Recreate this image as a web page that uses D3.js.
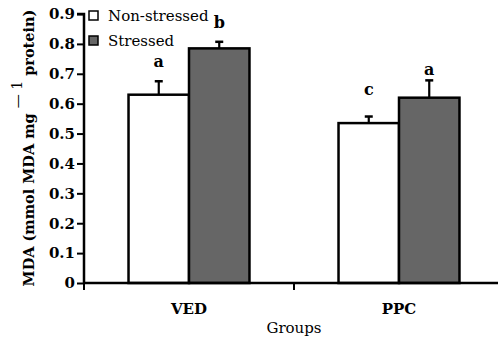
<!DOCTYPE html>
<html>
<head>
<meta charset="utf-8">
<script src="https://cdn.jsdelivr.net/npm/d3@7/dist/d3.min.js"></script>
<style>
  body { margin: 0; background: #fff; }
  svg text { font-family: "DejaVu Serif", "Liberation Serif", serif !important; }
</style>
</head>
<body>
<div id="chart"></div>
<script>
// data
const groups = ['VED', 'PPC'];
const conditions = ['Non-stressed', 'Stressed'];
const meanNonStressed = [0.63, 0.535];
const meanStressed = [0.785, 0.62];
const seNonStressed = [0.045, 0.022];
const seStressed = [0.022, 0.058];
const lettersNonStressed = ['a', 'c'];
const lettersStressed = ['b', 'a'];
const yTicks = [0, 0.1, 0.2, 0.3, 0.4, 0.5, 0.6, 0.7, 0.8, 0.9];

const width = 498;
const height = 341;
const margin = { top: 14, left: 84, bottom: 58 };
const fills = { 'Non-stressed': '#ffffff', 'Stressed': '#666666' };

const rows = groups.flatMap((g, i) => [
  { group: g, cond: 'Non-stressed', value: meanNonStressed[i], se: seNonStressed[i], letter: lettersNonStressed[i] },
  { group: g, cond: 'Stressed', value: meanStressed[i], se: seStressed[i], letter: lettersStressed[i] },
]);

const svg = d3.select('#chart')
  .append('svg')
  .attr('width', width)
  .attr('height', height);

const x = d3.scaleBand()
  .domain(groups)
  .range([margin.left, margin.left + 420])
  .paddingInner(0.424)
  .paddingOuter(0.212);

const xSub = d3.scaleBand()
  .domain(conditions)
  .range([0, x.bandwidth()]);

const y = d3.scaleLinear()
  .domain([0, 0.9])
  .range([height - margin.bottom, margin.top]);

// bars
const bars = svg.append('g')
  .selectAll('g')
  .data(rows)
  .join('g')
  .attr('transform', (d) => `translate(${x(d.group) + xSub(d.cond)},0)`);

bars.append('line')
  .attr('x1', xSub.bandwidth() / 2)
  .attr('x2', xSub.bandwidth() / 2)
  .attr('y1', (d) => y(d.value))
  .attr('y2', (d) => y(d.value + d.se))
  .attr('stroke', '#000')
  .attr('stroke-width', 2.2);

bars.append('line')
  .attr('x1', xSub.bandwidth() / 2 - 4)
  .attr('x2', xSub.bandwidth() / 2 + 4)
  .attr('y1', (d) => y(d.value + d.se))
  .attr('y2', (d) => y(d.value + d.se))
  .attr('stroke', '#000')
  .attr('stroke-width', 2.5);

bars.append('rect')
  .attr('x', 0)
  .attr('y', (d) => y(d.value))
  .attr('width', xSub.bandwidth())
  .attr('height', (d) => y(0) - y(d.value))
  .attr('fill', (d) => fills[d.cond])
  .attr('stroke', '#000')
  .attr('stroke-width', 2.5);

// significance letters
bars.append('text')
  .attr('x', xSub.bandwidth() / 2)
  .attr('y', (d) => y(d.value + d.se) - (d.letter === 'c' ? 22 : d.group === 'PPC' ? 5 : 14))
  .attr('text-anchor', 'middle')
  .attr('font-size', 16)
  .attr('font-weight', 'bold')
  .text((d) => d.letter);

// y axis
const yAxis = svg.append('g')
  .attr('transform', `translate(${margin.left},0)`)
  .call(d3.axisLeft(y).tickValues(yTicks).tickSize(7).tickPadding(2)
    .tickFormat((d) => (d === 0 ? '0' : d3.format('.1f')(d))));
yAxis.select('.domain').attr('stroke-width', 2.5).attr('d', `M-7,${y(0.9)}H0V${y(0)}`);
yAxis.selectAll('.tick line').attr('stroke-width', 2);
yAxis.selectAll('.tick text')
  .attr('font-size', 15)
  .attr('font-weight', 'bold')
  .attr('fill', '#000');

// x axis
const xAxis = svg.append('g');
xAxis.append('line')
  .attr('x1', margin.left)
  .attr('x2', width)
  .attr('y1', y(0))
  .attr('y2', y(0))
  .attr('stroke', '#000')
  .attr('stroke-width', 2.5);
xAxis.selectAll('.xtick')
  .data(groups)
  .join('line')
  .attr('class', 'xtick')
  .attr('x1', (d) => x(d) - x.step() * x.paddingInner() / 2)
  .attr('x2', (d) => x(d) - x.step() * x.paddingInner() / 2)
  .attr('y1', y(0))
  .attr('y2', y(0) + 7)
  .attr('stroke', '#000')
  .attr('stroke-width', 2);
xAxis.selectAll('.xlabel')
  .data(groups)
  .join('text')
  .attr('class', 'xlabel')
  .attr('x', (d) => x(d) + x.bandwidth() / 2)
  .attr('y', y(0) + 31)
  .attr('text-anchor', 'middle')
  .attr('font-size', 15)
  .attr('font-weight', 'bold')
  .text((d) => d);

svg.append('text')
  .attr('x', x.range()[0] + x.step())
  .attr('y', 333)
  .attr('text-anchor', 'middle')
  .attr('font-size', 15)
  .text('Groups');

// y label
const yLabel = svg.append('text')
  .attr('transform', `translate(34,${(y(0) + 13) / 2}) rotate(-90)`)
  .attr('text-anchor', 'middle')
  .attr('font-size', 14.5)
  .attr('font-weight', 'bold');
yLabel.append('tspan').text('MDA (mmol MDA mg ');
yLabel.append('tspan').attr('dy', -12).attr('font-size', 14).attr('font-weight', 'normal').text('\u2014 1');
yLabel.append('tspan').attr('dy', 12).text('  protein)');

// legend
const legend = svg.append('g')
  .selectAll('g')
  .data(conditions)
  .join('g')
  .attr('transform', (d, i) => `translate(89,${y(0.9) - 3 + i * 25})`);
legend.append('rect')
  .attr('width', 9)
  .attr('height', 9)
  .attr('fill', (d) => fills[d])
  .attr('stroke', '#000')
  .attr('stroke-width', 1.5);
legend.append('text')
  .attr('x', 19)
  .attr('y', 10)
  .attr('font-size', 15)
  .text((d) => d);
</script>
</body>
</html>
